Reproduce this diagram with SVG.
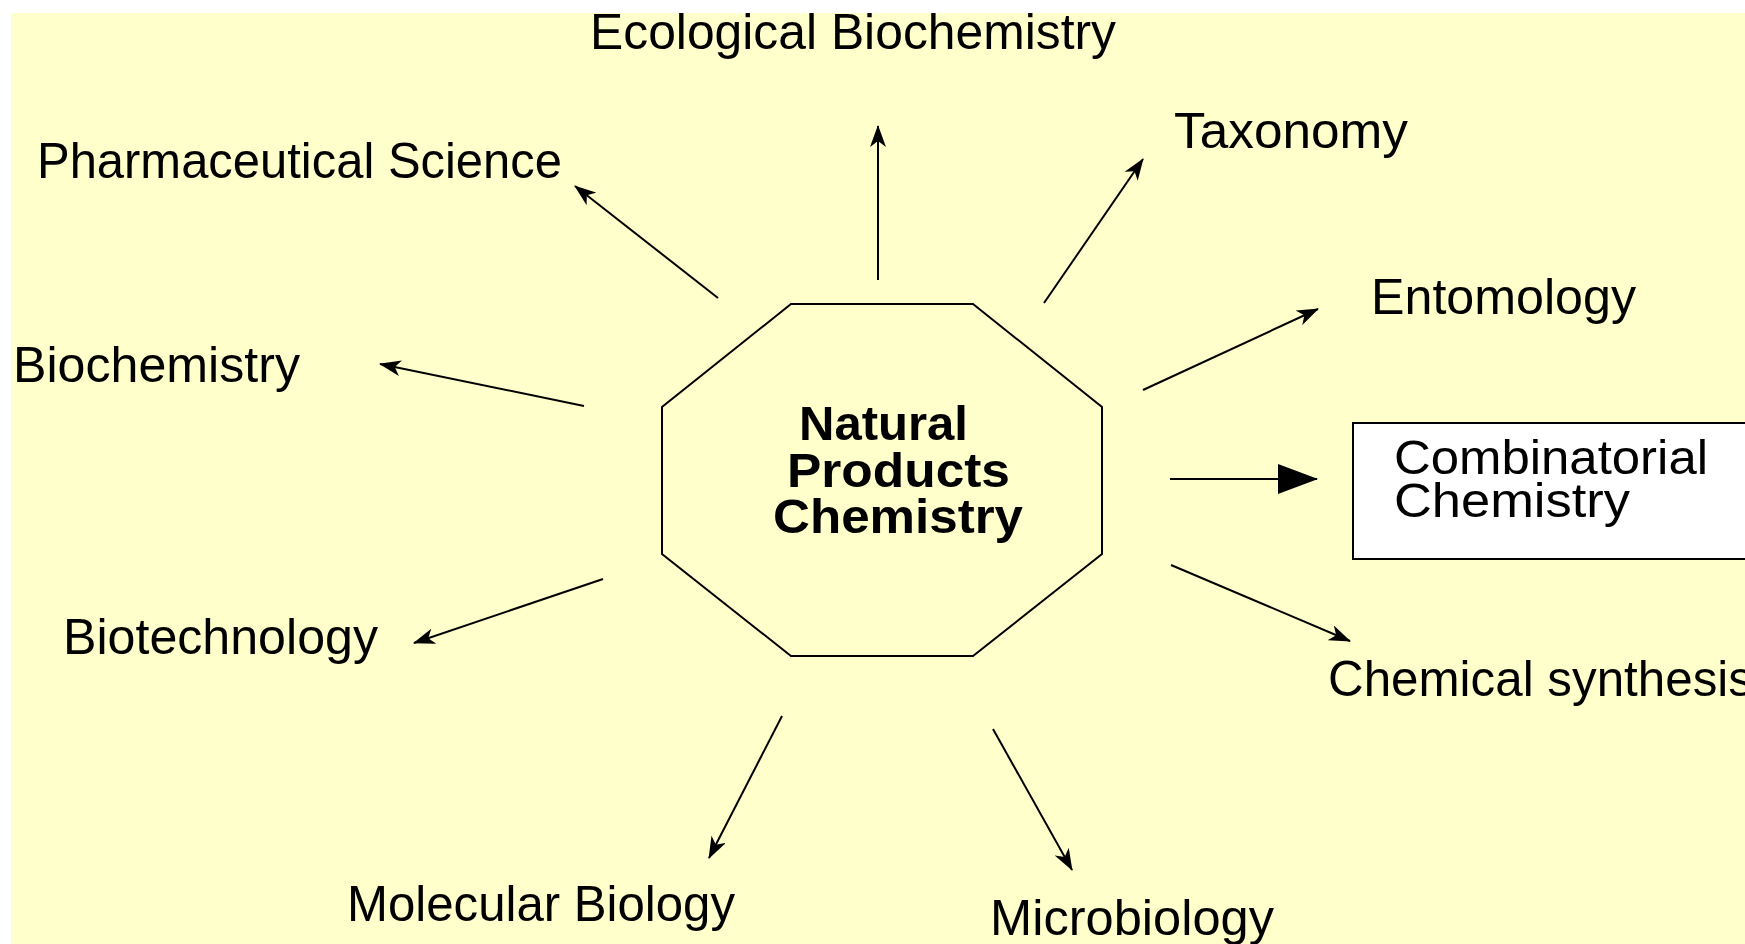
<svg xmlns="http://www.w3.org/2000/svg" width="1745" height="944" viewBox="0 0 1745 944">
<style>
.lbl{font-family:"Liberation Sans",Arial,sans-serif;font-size:50px;fill:#000}
.ctr{font-family:"Liberation Sans",Arial,sans-serif;font-size:49px;font-weight:bold;fill:#000}
.cn{stroke:#000;stroke-width:2;fill:none}
</style>
<defs>
<marker id="arr" viewBox="0 0 22 16" refX="21" refY="8" markerWidth="22" markerHeight="16" markerUnits="userSpaceOnUse" orient="auto">
<path d="M0,0 L22,8 L0,16 L6,8 Z" fill="#000"/>
</marker>
<marker id="big" viewBox="0 0 40 30" refX="39" refY="15" markerWidth="40" markerHeight="30" markerUnits="userSpaceOnUse" orient="auto">
<path d="M0,0 L40,15 L0,30 Z" fill="#000"/>
</marker>
</defs>
<rect x="0" y="0" width="1745" height="944" fill="#fff"/>
<rect x="11" y="13" width="1734" height="931" fill="#FFFFCC"/>

<g id="center">
<polygon points="791,304 973,304 1102,407 1102,554 973,656 791,656 662,554 662,407" fill="none" stroke="#000" stroke-width="2"/>
<text class="ctr" x="799" y="440" textLength="169" lengthAdjust="spacingAndGlyphs">Natural</text>
<text class="ctr" x="787" y="487" textLength="223" lengthAdjust="spacingAndGlyphs">Products</text>
<text class="ctr" x="773" y="533" textLength="250" lengthAdjust="spacingAndGlyphs">Chemistry</text>
</g>

<g id="ecological"><text class="lbl" x="590" y="49" textLength="526" lengthAdjust="spacingAndGlyphs">Ecological Biochemistry</text></g>
<g id="pharmaceutical"><text class="lbl" x="37" y="178" textLength="525" lengthAdjust="spacingAndGlyphs">Pharmaceutical Science</text></g>
<g id="taxonomy"><text class="lbl" x="1174" y="148" textLength="234" lengthAdjust="spacingAndGlyphs">Taxonomy</text></g>
<g id="entomology"><text class="lbl" x="1371" y="314" textLength="265" lengthAdjust="spacingAndGlyphs">Entomology</text></g>
<g id="biochemistry"><text class="lbl" x="13" y="382" textLength="287" lengthAdjust="spacingAndGlyphs">Biochemistry</text></g>
<g id="biotechnology"><text class="lbl" x="63" y="654" textLength="315" lengthAdjust="spacingAndGlyphs">Biotechnology</text></g>
<g id="molecular"><text class="lbl" x="347" y="921" textLength="388" lengthAdjust="spacingAndGlyphs">Molecular Biology</text></g>
<g id="microbiology"><text class="lbl" x="990" y="935" textLength="284" lengthAdjust="spacingAndGlyphs">Microbiology</text></g>
<g id="synthesis"><text class="lbl" x="1328" y="696" textLength="425" lengthAdjust="spacingAndGlyphs">Chemical synthesis</text></g>
<g id="combinatorial">
<rect x="1353" y="423" width="420" height="136" fill="#fff" stroke="#000" stroke-width="2"/>
<text class="lbl" style="font-size:48px" x="1394" y="474" textLength="314" lengthAdjust="spacingAndGlyphs">Combinatorial</text>
<text class="lbl" style="font-size:48px" x="1394" y="517" textLength="236" lengthAdjust="spacingAndGlyphs">Chemistry</text>
</g>

<g id="connectors">
<line class="cn" x1="878" y1="280" x2="878" y2="126" marker-end="url(#arr)"/>
<line class="cn" x1="718" y1="298" x2="575" y2="186" marker-end="url(#arr)"/>
<line class="cn" x1="1044" y1="303" x2="1143" y2="159" marker-end="url(#arr)"/>
<line class="cn" x1="1143" y1="390" x2="1318" y2="309" marker-end="url(#arr)"/>
<line class="cn" x1="1170" y1="479" x2="1317" y2="479" marker-end="url(#big)"/>
<line class="cn" x1="1171" y1="565" x2="1350" y2="641" marker-end="url(#arr)"/>
<line class="cn" x1="993" y1="729" x2="1072" y2="870" marker-end="url(#arr)"/>
<line class="cn" x1="782" y1="716" x2="709" y2="858" marker-end="url(#arr)"/>
<line class="cn" x1="603" y1="579" x2="414" y2="643" marker-end="url(#arr)"/>
<line class="cn" x1="584" y1="406" x2="380" y2="364" marker-end="url(#arr)"/>
</g>
</svg>
